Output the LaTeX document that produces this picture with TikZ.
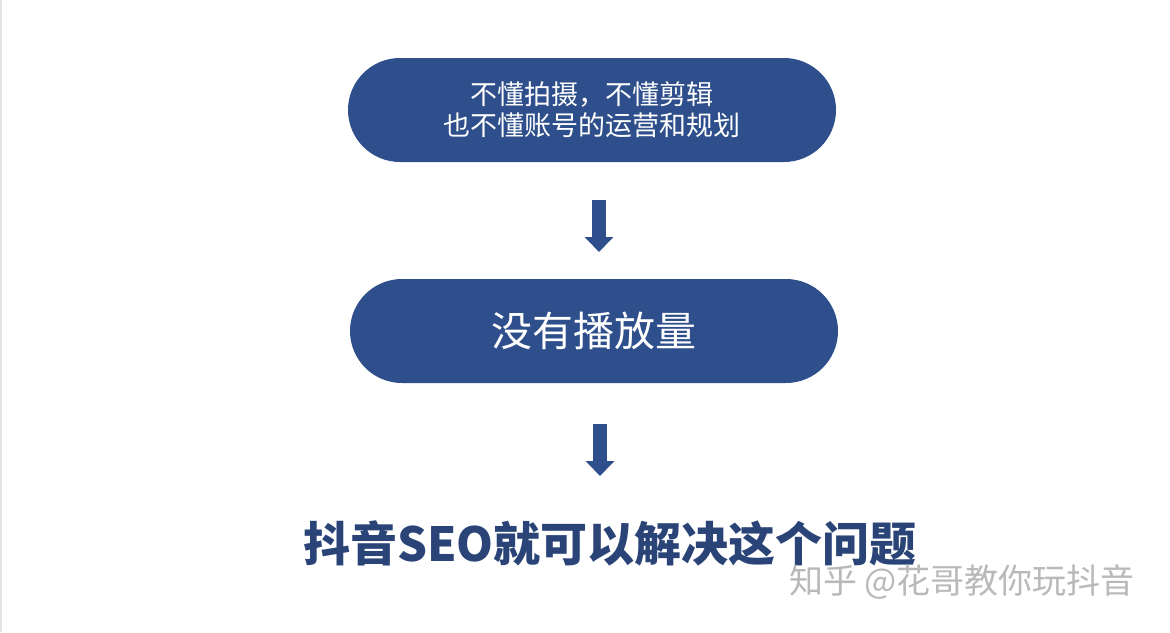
\documentclass[tikz,border=0pt]{standalone}
\usepackage{fontspec}
\newfontfamily\cjk{Noto Sans CJK SC}
\usetikzlibrary{arrows.meta}
\definecolor{navy}{RGB}{46,79,139}
\definecolor{titleblue}{RGB}{42,68,120}
\tikzset{
  pill/.style={draw=none, fill=navy, rounded corners=52pt, minimum width=488pt, minimum height=104pt, text=white, align=center, inner sep=0pt},
  downarrow/.style={draw=navy, line width=14pt, -{Triangle[width=28pt,length=15pt]}, shorten >=0pt}
}
\begin{document}
\begin{tikzpicture}[x=1pt,y=-1pt]
\useasboundingbox[fill=white] (0,0) rectangle (1170,632);
\fill[gray!22] (0,0) rectangle (2,632);
\node[pill, font=\cjk\fontsize{27}{31}\selectfont] (p1) at (592,110) {不懂拍摄，不懂剪辑\\也不懂账号的运营和规划};
\node[pill, font=\cjk\fontsize{41}{48}\selectfont] (p2) at (594,331) {没有播放量};
\node[font=\cjk\bfseries\fontsize{47}{54}\selectfont, text=titleblue, inner sep=0pt] (t) at (610,543) {抖音SEO就可以解决这个问题};
\coordinate (a1s) at (599,200);
\coordinate (a1e) at (599,252);
\coordinate (a2s) at (600,424);
\coordinate (a2e) at (600,476);
\draw[downarrow] (a1s) -- (a1e);
\draw[downarrow] (a2s) -- (a2e);
\node[font=\cjk\fontsize{34}{40}\selectfont, text=gray!55, inner sep=0pt] (wm) at (962,582) {知乎 @花哥教你玩抖音};
\end{tikzpicture}
\end{document}
